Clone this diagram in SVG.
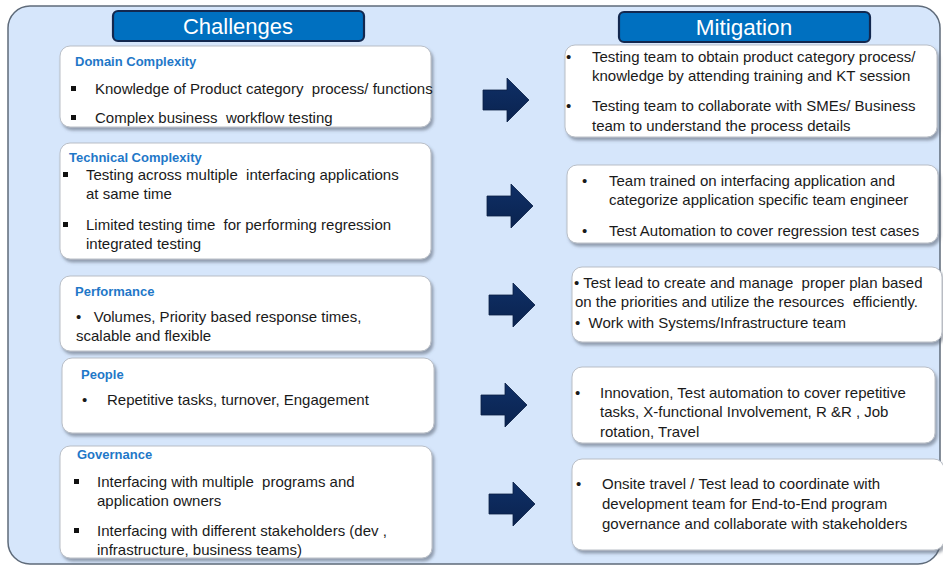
<svg xmlns="http://www.w3.org/2000/svg" width="943" height="566" viewBox="0 0 943 566">
<defs>
<filter id="sh" x="-5%" y="-10%" width="112%" height="130%">
<feDropShadow dx="2" dy="3" stdDeviation="1.8" flood-color="#5a6270" flood-opacity="0.55"/>
</filter>
<linearGradient id="ag" x1="0" y1="0" x2="0" y2="1">
<stop offset="0" stop-color="#0f2f66"/>
<stop offset="1" stop-color="#0a234f"/>
</linearGradient>
<path id="arrow" d="M0,12 H24 V0 L46,22 L24,44 V32 H0 Z"/>
</defs>
<style>
.bg{fill:#d6e6fb;stroke:#5f6b7a;stroke-width:1.5}
.hdr{fill:#0070c0;stroke:#13284f;stroke-width:2.2}
.hdrt{font-family:"Liberation Sans",Arial,sans-serif;font-size:22px;fill:#ffffff;text-anchor:middle}
.box{fill:#ffffff;stroke:#b9bec6;stroke-width:1;filter:url(#sh)}
.ttl{font-family:"Liberation Sans",Arial,sans-serif;font-size:13px;font-weight:bold;fill:#1f78c8}
.t{font-family:"Liberation Sans",Arial,sans-serif;font-size:15px;fill:#1a1a1a;white-space:pre}
.sq{fill:#111111}
.arr{fill:url(#ag);stroke:#0a1f45;stroke-width:0.8}
</style>
<rect class="bg" x="8" y="6" width="932" height="558" rx="22"/>

<g id="hdr-challenges">
<rect class="hdr" x="113" y="11" width="251" height="30" rx="5"/>
<text class="hdrt" x="238" y="34">Challenges</text>
</g>
<g id="hdr-mitigation">
<rect class="hdr" x="619" y="12" width="251" height="30" rx="5"/>
<text class="hdrt" x="744" y="35" style="font-size:22.5px">Mitigation</text>
</g>

<g id="c-domain">
<rect class="box" x="60" y="46" width="371" height="81" rx="10"/>
<text class="ttl" x="75" y="66">Domain Complexity</text>
<rect class="sq" x="71" y="86" width="5" height="5"/>
<text class="t" x="95" y="94">Knowledge of Product category  process/ functions</text>
<rect class="sq" x="71" y="115" width="5" height="5"/>
<text class="t" x="95" y="123">Complex business  workflow testing</text>
</g>

<g id="c-technical">
<rect class="box" x="60" y="143" width="371" height="116" rx="10"/>
<text class="ttl" x="69" y="162">Technical Complexity</text>
<rect class="sq" x="63" y="172" width="5" height="5"/>
<text class="t" x="86" y="180">Testing across multiple  interfacing applications</text>
<text class="t" x="86" y="199">at same time</text>
<rect class="sq" x="63" y="222" width="5" height="5"/>
<text class="t" x="86" y="230">Limited testing time  for performing regression</text>
<text class="t" x="86" y="249">integrated testing</text>
</g>

<g id="c-performance">
<rect class="box" x="60" y="276" width="371" height="75" rx="10"/>
<text class="ttl" x="75" y="296">Performance</text>
<text class="t" x="76" y="322">•   Volumes, Priority based response times,</text>
<text class="t" x="76" y="341">scalable and flexible</text>
</g>

<g id="c-people">
<rect class="box" x="62" y="358" width="372" height="75" rx="10"/>
<text class="ttl" x="81" y="379">People</text>
<text class="t" x="82" y="405">•</text>
<text class="t" x="107" y="405">Repetitive tasks, turnover, Engagement</text>
</g>

<g id="c-governance">
<rect class="box" x="60" y="446" width="372" height="112" rx="10"/>
<text class="ttl" x="77" y="459">Governance</text>
<rect class="sq" x="74" y="479" width="5" height="5"/>
<text class="t" x="97" y="487">Interfacing with multiple  programs and</text>
<text class="t" x="97" y="506">application owners</text>
<rect class="sq" x="74" y="528" width="5" height="5"/>
<text class="t" x="97" y="536">Interfacing with different stakeholders (dev ,</text>
<text class="t" x="97" y="555">infrastructure, business teams)</text>
</g>

<g id="m-domain">
<rect class="box" x="565" y="45" width="372" height="92" rx="10"/>
<text class="t" x="566" y="62">•</text>
<text class="t" x="592" y="62">Testing team to obtain product category process/</text>
<text class="t" x="592" y="81">knowledge by attending training and KT session</text>
<text class="t" x="566" y="111">•</text>
<text class="t" x="592" y="111">Testing team to collaborate with SMEs/ Business</text>
<text class="t" x="592" y="131">team to understand the process details</text>
</g>

<g id="m-technical">
<rect class="box" x="567" y="165" width="371" height="78" rx="10"/>
<text class="t" x="582" y="186">•</text>
<text class="t" x="609" y="186">Team trained on interfacing application and</text>
<text class="t" x="609" y="205">categorize application specific team engineer</text>
<text class="t" x="582" y="236">•</text>
<text class="t" x="609" y="236">Test Automation to cover regression test cases</text>
</g>

<g id="m-performance">
<rect class="box" x="572" y="267" width="370" height="75" rx="10"/>
<text class="t" x="574" y="288">• Test lead to create and manage  proper plan based</text>
<text class="t" x="575" y="307">on the priorities and utilize the resources  efficiently.</text>
<text class="t" x="575" y="328">•  Work with Systems/Infrastructure team</text>
</g>

<g id="m-people">
<rect class="box" x="572" y="367" width="363" height="76" rx="10"/>
<text class="t" x="575" y="398">•</text>
<text class="t" x="600" y="398">Innovation, Test automation to cover repetitive</text>
<text class="t" x="600" y="417">tasks, X-functional Involvement, R &amp;R , Job</text>
<text class="t" x="600" y="437">rotation, Travel</text>
</g>

<g id="m-governance">
<rect class="box" x="572" y="459" width="372" height="91" rx="10"/>
<text class="t" x="576" y="489">•</text>
<text class="t" x="602" y="489">Onsite travel / Test lead to coordinate with</text>
<text class="t" x="602" y="509">development team for End-to-End program</text>
<text class="t" x="602" y="529">governance and collaborate with stakeholders</text>
</g>

<g id="connectors">
<use href="#arrow" class="arr" transform="translate(483,78)"/>
<use href="#arrow" class="arr" transform="translate(487,184)"/>
<use href="#arrow" class="arr" transform="translate(489,283)"/>
<use href="#arrow" class="arr" transform="translate(481,383)"/>
<use href="#arrow" class="arr" transform="translate(489,482)"/>
</g>
</svg>
